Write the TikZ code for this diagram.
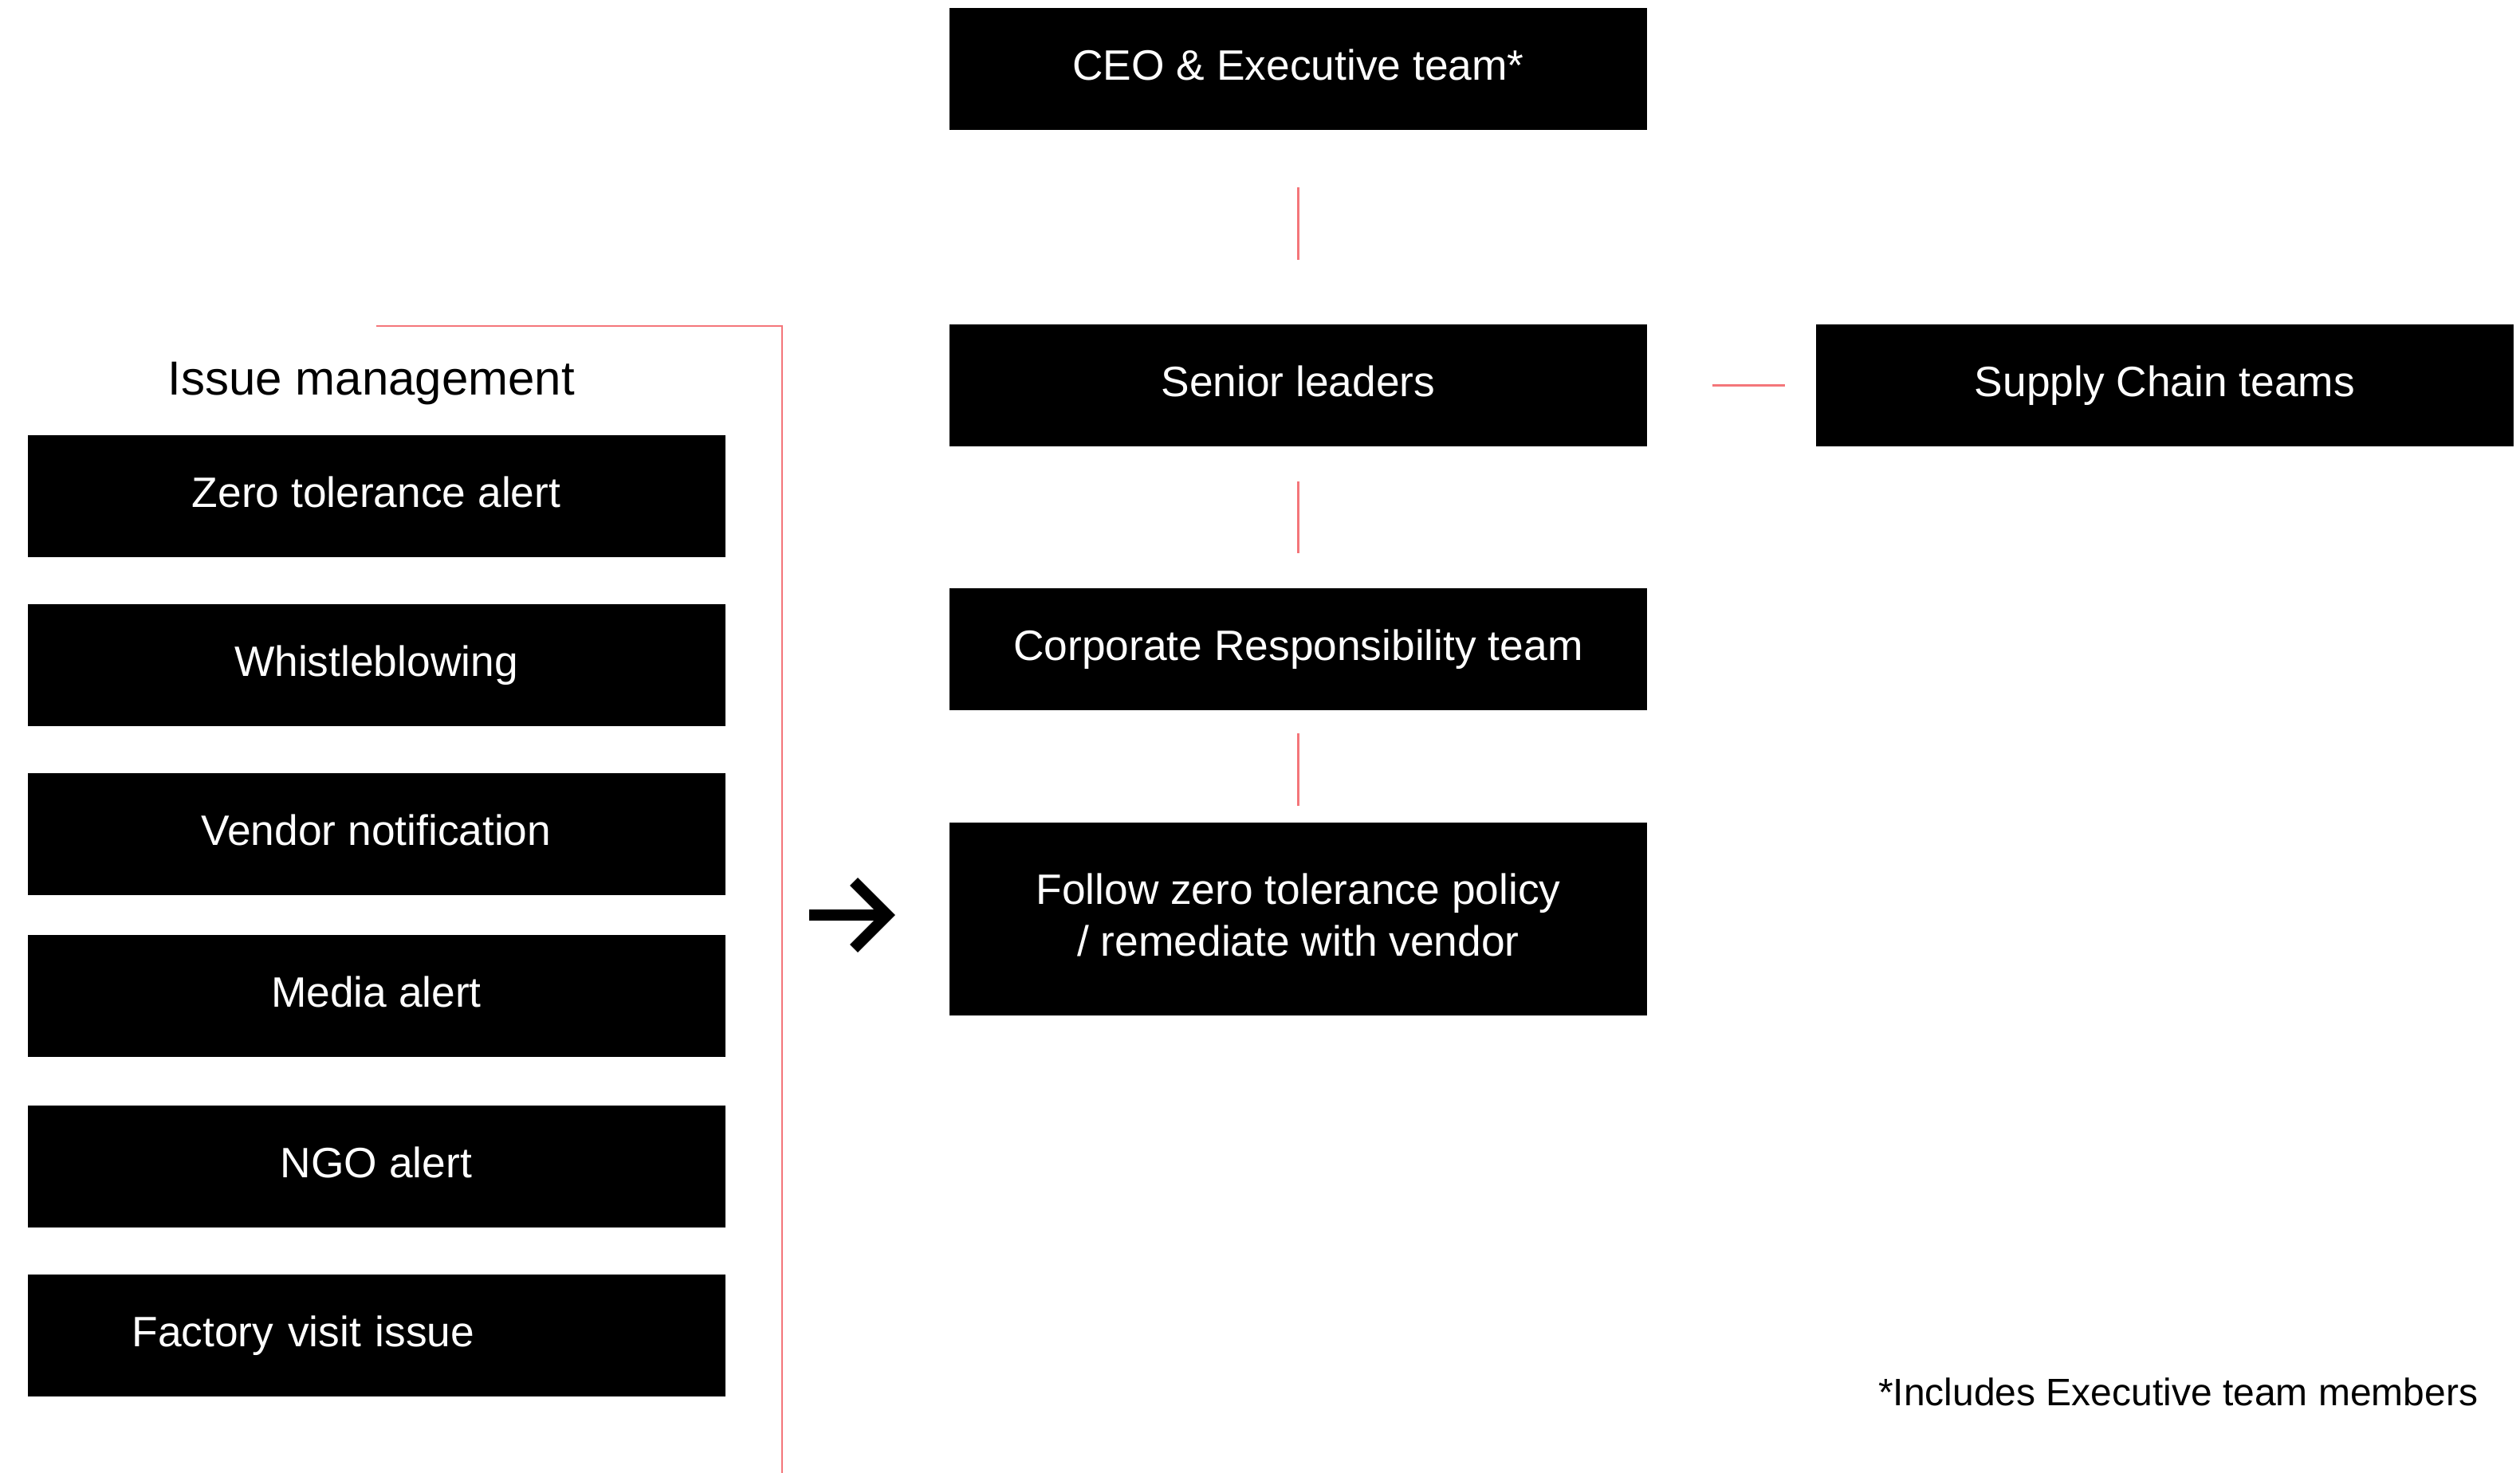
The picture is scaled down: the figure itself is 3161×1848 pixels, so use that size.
\documentclass[tikz,border=0pt]{standalone}
\usepackage{fontspec}
\setmainfont{Liberation Sans}
\definecolor{linkred}{RGB}{244,118,122}
\tikzset{
  box/.style={fill=black, text=white, minimum width=262.5pt, minimum height=45.9pt,
    inner sep=0pt, font=\fontsize{16}{19.4}\selectfont, align=center},
  onebox/.style={box, text height=11.7pt, text depth=3.3pt},
  conn/.style={draw=linkred, line width=0.7pt},
  bigarrow/.style={draw=black, line width=4.2pt, miter limit=10},
}
\begin{document}
\begin{tikzpicture}[x=0.3pt,y=-0.3pt]
\useasboundingbox (0,0) rectangle (3161,1848);

% central column
\node[onebox] (ceo) at (1628.5,86.5) {CEO \& Executive team*};
\node[onebox] (senior) at (1628.5,483.5) {Senior leaders};
\node[onebox] (supply) at (2715.5,483.5) {Supply Chain teams};
\node[onebox] (cr) at (1628.5,814.5) {Corporate Responsibility team};
\node[box, minimum height=72.6pt, text depth=3pt] (follow) at (1628.5,1153) {Follow zero tolerance policy\\/ remediate with vendor};

% issue management column
\node[anchor=base, inner sep=0pt, font=\fontsize{18}{21}\selectfont] (title) at (466,496) {Issue management};
\node[onebox] (zero) at (472,623) {Zero tolerance alert};
\node[onebox] (whistle) at (472,834.5) {Whistleblowing};
\node[onebox] (vendor) at (472,1046.5) {Vendor notification};
\node[onebox] (media) at (472,1250) {Media alert};
\node[onebox] (ngo) at (472,1463.5) {NGO alert};
\node[onebox, align=left, text width=183.9pt, inner xsep=39.3pt] (factory) at (472,1675.5) {Factory visit issue};

% footnote
\node[anchor=base east, inner sep=0pt, font=\fontsize{14.4}{17}\selectfont] (note) at (3109,1763) {*Includes Executive team members};

% connectors
\draw[conn, shorten <=21.3pt, shorten >=24pt] (ceo.south) -- (senior.north);
\draw[conn, shorten <=12.9pt, shorten >=12.9pt] (senior.south) -- (cr.north);
\draw[conn, shorten <=8.4pt, shorten >=6pt] (cr.south) -- (follow.north);
\draw[conn, shorten <=24.3pt, shorten >=11.4pt] (senior.east) -- (supply.west);

% bracket
\coordinate (brL) at (472,409);
\coordinate (brC) at (981,409);
\coordinate (brB) at (981,1848);
\draw[conn] (brL) -- (brC) -- (brB);

% arrow
\coordinate (arS) at (1015,1148);
\coordinate (arE) at (1110,1148);
\coordinate (arT) at (1071,1106);
\coordinate (arV) at (1113,1148);
\coordinate (arB) at (1071,1190);
\draw[bigarrow] (arS) -- (arE);
\draw[bigarrow] (arT) -- (arV) -- (arB);
\end{tikzpicture}
\end{document}
